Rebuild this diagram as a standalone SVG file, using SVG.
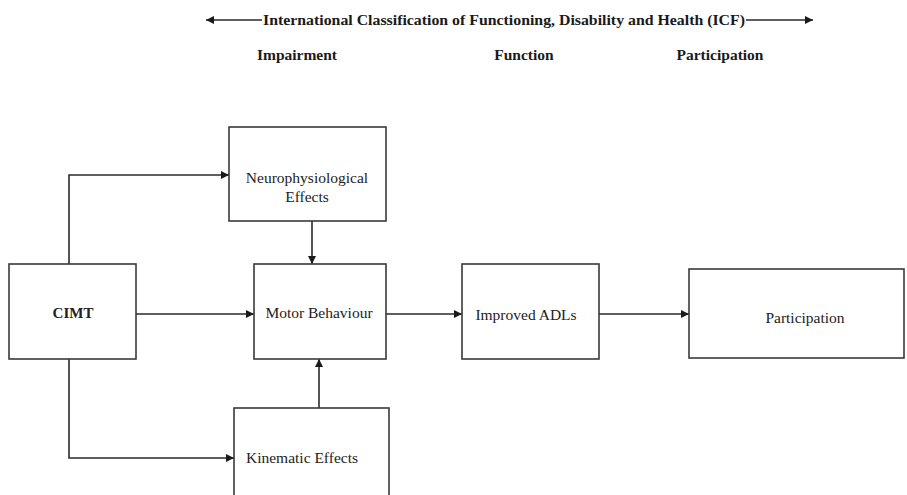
<svg xmlns="http://www.w3.org/2000/svg" width="907" height="495" viewBox="0 0 907 495">
  <style>
    .box { fill: #ffffff; stroke: #3a3a3a; stroke-width: 1.6; }
    .wire { fill: none; stroke: #2a2a2a; stroke-width: 1.6; }
    .lbl { font-family: "Liberation Serif", "Times New Roman", serif; font-size: 15.5px; fill: #222; text-anchor: middle; }
    .hdr { font-family: "Liberation Serif", "Times New Roman", serif; font-size: 15.5px; font-weight: bold; fill: #1a1a1a; text-anchor: middle; }
    .bold { font-weight: bold; font-size: 15px; }
  </style>
  <defs>
    <marker id="arr" viewBox="0 0 10 10" refX="10" refY="5" markerWidth="8" markerHeight="8" markerUnits="userSpaceOnUse" orient="auto">
      <path d="M0,0 L10,5 L0,10 z" fill="#1a1a1a"/>
    </marker>
  </defs>

  <rect width="907" height="495" fill="#ffffff"/>

  <!-- ICF header band -->
  <g id="icf-header">
    <line class="wire" x1="262" y1="20" x2="206" y2="20" marker-end="url(#arr)"/>
    <line class="wire" x1="746" y1="20" x2="813" y2="20" marker-end="url(#arr)"/>
    <text class="hdr" x="504" y="25" textLength="482" lengthAdjust="spacingAndGlyphs">International Classification of Functioning, Disability and Health (ICF)</text>
    <text class="hdr" x="297" y="60">Impairment</text>
    <text class="hdr" x="524" y="60">Function</text>
    <text class="hdr" x="720" y="60">Participation</text>
  </g>

  <!-- connectors -->
  <g id="connectors">
    <polyline class="wire" points="69,264 69,175 229,175" marker-end="url(#arr)"/>
    <polyline class="wire" points="69,359 69,458 234,458" marker-end="url(#arr)"/>
    <line class="wire" x1="136" y1="314" x2="254" y2="314" marker-end="url(#arr)"/>
    <line class="wire" x1="312" y1="221" x2="312" y2="264" marker-end="url(#arr)"/>
    <line class="wire" x1="319" y1="408" x2="319" y2="359" marker-end="url(#arr)"/>
    <line class="wire" x1="386" y1="314" x2="462" y2="314" marker-end="url(#arr)"/>
    <line class="wire" x1="599" y1="314" x2="689" y2="314" marker-end="url(#arr)"/>
  </g>

  <g id="cimt">
    <rect class="box" x="9" y="264" width="127" height="95"/>
    <text class="lbl bold" x="73" y="318">CIMT</text>
  </g>

  <g id="neurophysiological">
    <rect class="box" x="229" y="127" width="157" height="94"/>
    <text class="lbl" x="307" y="183">Neurophysiological</text>
    <text class="lbl" x="307" y="202">Effects</text>
  </g>

  <g id="motor-behaviour">
    <rect class="box" x="254" y="264" width="132" height="95"/>
    <text class="lbl" x="319" y="318">Motor Behaviour</text>
  </g>

  <g id="kinematic">
    <rect class="box" x="234" y="408" width="155" height="100"/>
    <text class="lbl" x="302" y="463">Kinematic Effects</text>
  </g>

  <g id="improved-adls">
    <rect class="box" x="462" y="264" width="137" height="95"/>
    <text class="lbl" x="526" y="320">Improved ADLs</text>
  </g>

  <g id="participation">
    <rect class="box" x="689" y="269" width="215" height="89"/>
    <text class="lbl" x="805" y="323">Participation</text>
  </g>
</svg>
